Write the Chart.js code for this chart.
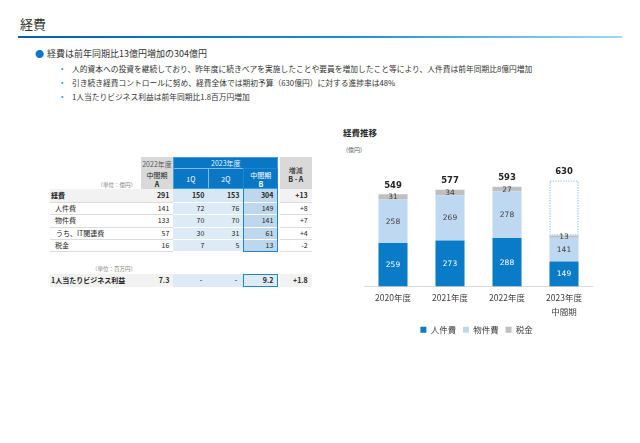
<!DOCTYPE html>
<html><head><meta charset="utf-8">
<script src="https://cdn.jsdelivr.net/npm/chart.js@4"></script>
<style>
html,body{margin:0;padding:0;background:#fff;width:640px;height:443px;overflow:hidden;font-family:"Noto Sans CJK JP","Noto Sans",sans-serif;color:#333;}
.abs{position:absolute;white-space:nowrap;}
#title{left:20px;top:15px;font-size:13px;line-height:18px;color:#333;}
#rule{left:18px;top:36px;width:604px;height:2px;background:linear-gradient(to right,#0062ae,#1a8fd6 55%,#9fd8f4);}
.b1{font-size:9px;line-height:12px;color:#333;}
.b2{font-size:7.75px;line-height:12px;color:#333;}
.dot1{color:#0a78c8;font-size:9px;}
.dot2{color:#3a8fd0;font-size:7px;}
.cell{position:absolute;box-sizing:border-box;font-size:7px;line-height:1;display:flex;align-items:center;white-space:nowrap;color:#262626;}
.txt{position:absolute;white-space:nowrap;font-size:7px;line-height:7px;transform:translate(-50%,-50%);}
#chartWrap{position:absolute;left:360px;top:160px;width:240px;height:184px;}
</style></head>
<body>
<div class="abs" id="title">経費</div>
<div class="abs" id="rule"></div>

<div class="abs dot1" style="left:35px;top:47px;">●</div>
<div class="abs b1" style="left:47px;top:48px;">経費は前年同期比13億円増加の304億円</div>
<div class="abs dot2" style="left:61px;top:63px;">•</div>
<div class="abs b2" style="left:72px;top:63px;">人的資本への投資を継続しており、昨年度に続きベアを実施したことや要員を増加したこと等により、人件費は前年同期比8億円増加</div>
<div class="abs dot2" style="left:61px;top:77px;">•</div>
<div class="abs b2" style="left:72px;top:77px;">引き続き経費コントロールに努め、経費全体では期初予算（630億円）に対する進捗率は48%</div>
<div class="abs dot2" style="left:61px;top:91px;">•</div>
<div class="abs b2" style="left:72px;top:91px;">1人当たりビジネス利益は前年同期比1.8百万円増加</div>

<div id="table"></div>

<div class="abs" style="left:343px;top:126px;font-size:8.5px;font-weight:bold;color:#262626;">経費推移</div>
<div class="abs" style="left:346px;top:145px;font-size:6px;color:#595959;">(億円)</div>

<div id="chartWrap"><canvas id="c"></canvas></div>

<script>
// ---- table data ----
const rowLabels = ['経費','人件費','物件費','うち、IT関連費','税金'];
const colA  = ['291','141','133','57','16'];
const col1Q = ['150','72','70','30','7'];
const col2Q = ['153','76','70','31','5'];
const colB  = ['304','149','141','61','13'];
const colDiff = ['+13','+8','+7','+4','-2'];
const profitRow = ['1人当たりビジネス利益','7.3','-','-','9.2','+1.8'];

// ---- chart data ----
const categories = [['2020年度'],['2021年度'],['2022年度'],['2023年度','中間期']];
const personnel = [259,273,288,149];
const nonPersonnel = [258,269,278,141];
const taxes = [31,34,27,13];
const totals = [549,577,593,630];
const budget = [null,null,null,630];

// ---- build table ----
const T = document.getElementById('table');
function cell(x,y,w,h,text,o){
  o=o||{};
  const d=document.createElement('div');d.className='cell';
  d.style.left=x+'px';d.style.top=y+'px';d.style.width=w+'px';d.style.height=h+'px';
  if(o.bg)d.style.background=o.bg;
  if(o.color)d.style.color=o.color;
  if(o.bold)d.style.fontWeight='bold';
  if(o.bb)d.style.borderBottom='1px solid '+o.bb;
  d.style.justifyContent=o.align==='left'?'flex-start':(o.align==='center'?'center':'flex-end');
  if(o.pl!=null)d.style.paddingLeft=o.pl+'px';
  if(o.pr!=null)d.style.paddingRight=o.pr+'px';
  if(o.fs)d.style.fontSize=o.fs+'px';
  d.textContent=text;T.appendChild(d);return d;
}
function txt(x,y,text,o){
  o=o||{};
  const d=document.createElement('div');d.className='txt';
  d.style.left=x+'px';d.style.top=y+'px';
  if(o.color)d.style.color=o.color;
  if(o.bold)d.style.fontWeight='bold';
  if(o.fs)d.style.fontSize=o.fs+'px';
  d.textContent=text;T.appendChild(d);
}
function box(x,y,w,h,style){
  const d=document.createElement('div');d.style.position='absolute';d.style.boxSizing='border-box';
  d.style.left=x+'px';d.style.top=y+'px';d.style.width=w+'px';d.style.height=h+'px';
  Object.assign(d.style,style);T.appendChild(d);
}
const cx=[50,140.7,173.3,208.3,243.3,280];
const cw=[90.7,32.6,35,35,35,31.7];
const ry=[189.3,202.7,215.2,227.6,240,252.3];
const BLUE='#0a77c5', LB='#ddebf7', MB='#bdd7ee', GR='#f2f2f2', HG='#d9d9d9';

// headers
box(cx[1],157.3,cw[1],32,{background:HG});
txt(cx[1]+cw[1]/2,163.5,'2022年度',{color:'#595959'});
txt(cx[1]+cw[1]/2,175,'中間期',{color:'#262626'});
txt(cx[1]+cw[1]/2,183.5,'A',{color:'#262626',bold:true});
box(cx[2],157.3,105,32,{background:BLUE});
box(cx[2],168.3,70,0.8,{background:'#7fbbe8'});
box(cx[3],168.3,0.8,21,{background:'#7fbbe8'});
box(cx[4],168.3,0.8,21,{background:'#7fbbe8'});
box(cx[2],157.3,105,32,{border:'1px solid #3a9fe6'});
txt(cx[2]+52.5,163,'2023年度',{color:'#e6f2fb'});
txt(cx[2]+cw[2]/2,178.5,'1Q',{color:'#fff'});
txt(cx[3]+cw[3]/2,178.5,'2Q',{color:'#fff'});
txt(cx[4]+cw[4]/2,175,'中間期',{color:'#fff'});
txt(cx[4]+cw[4]/2,183.5,'B',{color:'#fff',bold:true});
box(cx[5],157.3,cw[5],32,{background:HG});
txt(cx[5]+cw[5]/2,169.5,'増減',{color:'#262626'});
txt(cx[5]+cw[5]/2,178.5,'B - A',{color:'#262626',bold:true});
const u1=document.createElement('div');u1.className='abs';
Object.assign(u1.style,{right:(640-136)+'px',top:'181px',fontSize:'5.5px',color:'#7f7f7f'});u1.textContent='（単位：億円）';T.appendChild(u1);

// data rows
for(let i=0;i<rowLabels.length;i++){
  const y=ry[i],h=ry[i+1]-ry[i],bold=i===0;
  const pl=i===0?1:(i===3?6:5);
  cell(cx[0],y,cw[0],h,rowLabels[i],{align:'left',pl:pl,bold:bold,bg:bold?GR:'#fff',bb:'#dcdcdc'});
  cell(cx[1],y,cw[1],h,colA[i],{pr:4,bold:bold,bg:bold?GR:'#fff',bb:'#dcdcdc'});
  cell(cx[2],y,cw[2],h,col1Q[i],{pr:4,bold:bold,bg:bold?'#d6e7f5':LB,bb:'#fff'});
  cell(cx[3],y,cw[3],h,col2Q[i],{pr:4,bold:bold,bg:bold?'#d6e7f5':LB,bb:'#fff'});
  cell(cx[4],y,cw[4],h,colB[i],{pr:5,bold:bold,bg:MB,bb:'#fff'});
  cell(cx[5],y,cw[5],h,colDiff[i],{pr:4,bold:bold,bg:bold?GR:'#fff',bb:'#dcdcdc'});
}
box(cx[4],168.3,cw[4],252.3-168.3,{border:'1.5px solid #1b87d2'});

// profit row
const u2=document.createElement('div');u2.className='abs';
Object.assign(u2.style,{right:(640-136)+'px',top:'265px',fontSize:'5.5px',color:'#7f7f7f'});u2.textContent='（単位：百万円）';T.appendChild(u2);
const py=274,ph=12.7;
cell(cx[0],py,cw[0],ph,profitRow[0],{align:'left',pl:1,bold:true,bg:GR});
cell(cx[1],py,cw[1],ph,profitRow[1],{pr:4,bold:true,bg:GR});
cell(cx[2],py,cw[2],ph,profitRow[2],{pr:6,bold:true,bg:LB,color:'#595959'});
cell(cx[3],py,cw[3],ph,profitRow[3],{pr:6,bold:true,bg:LB,color:'#595959'});
cell(cx[4],py,cw[4],ph,profitRow[4],{pr:5,bold:true,bg:LB});
cell(cx[5],py,cw[5],ph,profitRow[5],{pr:4,bold:true,bg:GR});
box(cx[4],py,cw[4],ph,{border:'1.5px solid #1b87d2'});

// ---- chart ----
const remainder = budget.map((b,i)=> b==null?null: b-(personnel[i]+nonPersonnel[i]+taxes[i]));
const NUMFONT='"DejaVu Sans","Noto Sans CJK JP",sans-serif';
const labelPlugin={
  id:'labels',
  afterDatasetsDraw(chart){
    const ctx=chart.ctx;
    const bm=chart.getDatasetMeta(3);
    bm.data.forEach((el,i)=>{
      if(remainder[i]==null)return;
      const p=el.getProps(['x','y','base','width'],true);
      ctx.save();ctx.strokeStyle='#9cc9ee';ctx.lineWidth=1.3;ctx.setLineDash([1.3,1.3]);
      ctx.strokeRect(p.x-p.width/2+0.6,p.y+0.6,p.width-1.2,p.base-p.y-1.2);ctx.restore();
    });
    const colors=['#ffffff','#404040','#404040'];
    ctx.save();ctx.textAlign='center';ctx.textBaseline='middle';
    for(let d=0;d<3;d++){
      const meta=chart.getDatasetMeta(d);
      meta.data.forEach((el,i)=>{
        const p=el.getProps(['x','y','base'],true);
        ctx.fillStyle=colors[d];ctx.font='7.5px '+NUMFONT;
        ctx.fillText(String(chart.data.datasets[d].data[i]),p.x,(p.y+p.base)/2+0.5);
      });
    }
    ctx.font='bold 8.5px '+NUMFONT;ctx.fillStyle='#262626';
    totals.forEach((t,i)=>{
      let top=Infinity,x=0;
      for(let d=0;d<4;d++){
        const v=chart.data.datasets[d].data[i];
        if(v==null)continue;
        const p=chart.getDatasetMeta(d).data[i].getProps(['x','y'],true);
        if(p.y<top){top=p.y;x=p.x;}
      }
      ctx.fillText(String(t),x,top-9);
    });
    ctx.restore();
  }
};
new Chart(document.getElementById('c'),{
  type:'bar',
  data:{labels:categories,datasets:[
    {label:'人件費',data:personnel,backgroundColor:'#0a7bc6'},
    {label:'物件費',data:nonPersonnel,backgroundColor:'#bdd8f0'},
    {label:'税金',data:taxes,backgroundColor:'#bfbfbf'},
    {label:'予算',data:remainder,backgroundColor:'rgba(0,0,0,0)'}
  ]},
  options:{
    responsive:true,maintainAspectRatio:false,animation:false,
    layout:{padding:{top:10,left:4.5,right:7.5,bottom:0}},
    datasets:{bar:{categoryPercentage:1,barPercentage:0.51,borderWidth:0}},
    plugins:{
      legend:{position:'bottom',labels:{boxWidth:6,boxHeight:6,padding:3,color:'#404040',font:{size:8.5,family:'"Noto Sans CJK JP",sans-serif'},
        generateLabels:(chart)=>Chart.defaults.plugins.legend.labels.generateLabels(chart).filter(it=>it.datasetIndex<3).map(it=>Object.assign(it,{text:it.text+'  '}))}},
      tooltip:{enabled:false}
    },
    scales:{
      x:{stacked:true,grid:{display:false,drawTicks:false},border:{display:true,color:'#d9d9d9'},
        ticks:{color:'#404040',padding:4,font:{size:8.5,family:'"Noto Sans CJK JP",sans-serif',lineHeight:1.65}}},
      y:{stacked:true,display:false,min:0,max:693}
    }
  },
  plugins:[labelPlugin]
});
</script>
</body></html>
